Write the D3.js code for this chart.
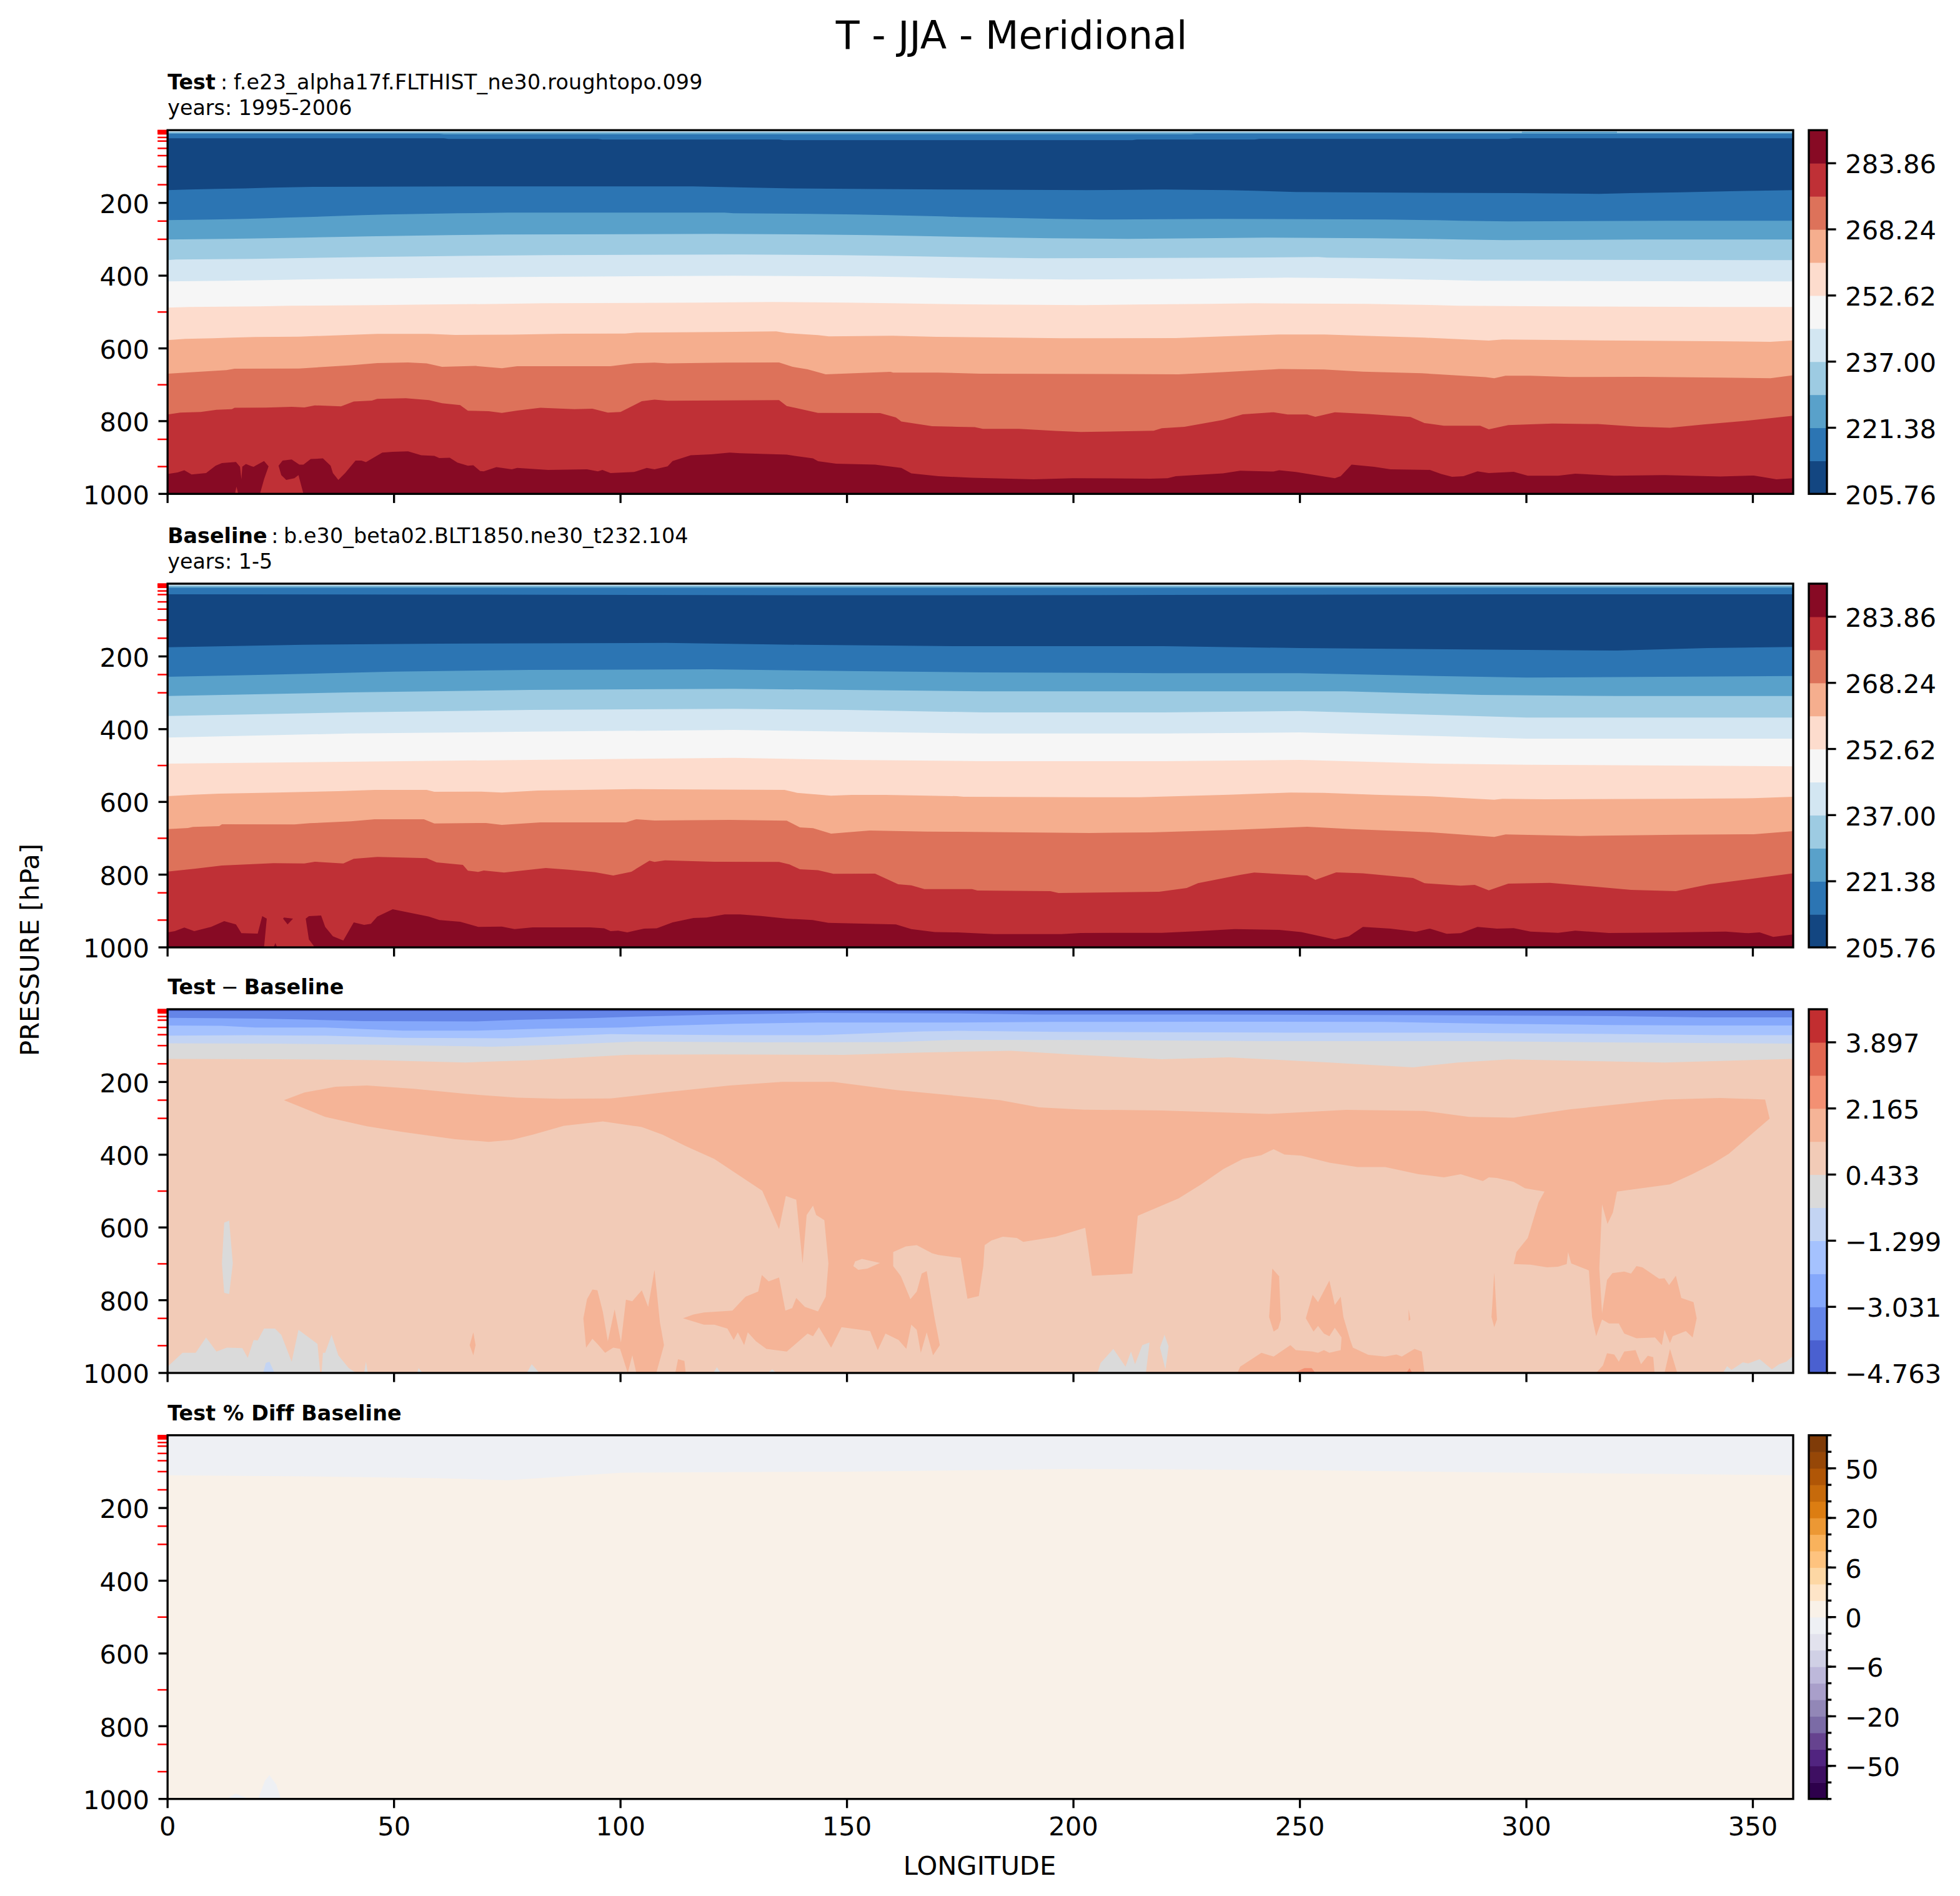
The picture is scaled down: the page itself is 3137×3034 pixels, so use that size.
<!DOCTYPE html>
<html><head><meta charset="utf-8">
<script src="https://cdn.jsdelivr.net/npm/d3@7"></script>
<style>html,body{margin:0;padding:0;background:#fff}svg{display:block}text{font-family:"DejaVu Sans";fill:#000}</style>
</head><body><svg id="fig" width="3137" height="3034"></svg>
<script>
// ---------- shared ----------
const lonTicks=[0,50,100,150,200,250,300,350];
const pressureMajor=[200,400,600,800,1000];
const pressureLevels=[1,2,3,5,7,10,20,30,50,70,100,150,250,300,500,700,850,925];
// ---------- colours and levels ----------
const rdbu=["#134681","#2c75b3","#59a1ca","#9dcbe2","#d3e6f2","#f6f6f6","#fddccd","#f5ae8e","#dd725a","#bf3036","#870a24"];
const coolwarm=["#4a60d0","#6485e8","#85a8fb","#a5c2fe","#c3d4f3","#dadada","#f2cbb7","#f5b497","#f39073","#e16751","#c22e30"];
const puor=["#2d004b","#3e0f62","#512480","#66438f","#7b6ba6","#9287b7","#a99fca","#bdb8da","#d0d0e5","#e2e2ed","#eef0f4","#f9f1e8","#fee5c8","#fdd7a4","#fec37f","#f9b25c","#ec9834","#dc7d12","#c66a0b","#b05606","#964707","#7f3b08"];
const fieldTicks=[205.76,221.38,237.00,252.62,268.24,283.86];
const fieldRange=[205.76,291.67];
const diffTicks=[-4.763,-3.031,-1.299,0.433,2.165,3.897];
const diffRange=[-4.763,4.763];
const pctLevels=[-100,-75,-50,-40,-30,-20,-15,-10,-6,-4,-2,0,2,4,6,10,15,20,30,40,50,75,100];
const pctLabels=[-50,-20,-6,0,6,20,50];
// ---------- Test: band edges as [longitude, hPa] ----------
const testE0=[[0,4.6],[359,4.6]];
const testE1=[[0,7.4],[299,7.4],[299,4.2],[320,4.2],[320,7.4],[359,7.4]];
const testE2=[[0,9.7],[60,9.7],[61,11.5],[226,11.5],[227,9.7],[359,9.7]];
const testE3=[[0,22.3],[61,22.3],[62,24],[95,24],[96,25.8],[135,25.8],[136,27.5],[213,27.5],[214,25.8],[240,25.8],[241,24],[296,24],[297,22.3],[359,22.3]];
const testE4=[[0,165],[4.7,163],[11,161.5],[17,160],[23,158],[32,156],[66,154.6],[116,154.6],[129,158],[138,160],[151,161.5],[172,163],[203,165],[220,163],[234,165],[240,166.6],[249,170],[259,171],[298,173],[316,175],[323,173],[334,171],[345,168],[351,166.6],[359,165]];
const testE5=[[0,247.4],[10,245.7],[17,244],[22,242.2],[26,240.5],[31,238.8],[35,237],[39,235.4],[43,233.7],[48,232],[56,230.2],[64,228.5],[75,226.8],[123,226.8],[125,228.5],[142,230.2],[152,232],[159,233.7],[165,235.4],[171,237],[175,238.8],[183,240.5],[189.5,242.2],[196,244],[206,245.7],[232,244],[269,245.7],[280,247.4],[285.5,249],[296,250.8],[331,249],[359,249]];
const testE6=[[0,300.7],[13,299],[22,297.2],[30,295.5],[37,293.8],[44,292],[53,290.3],[62,288.6],[74,286.9],[121,285.2],[143,286.9],[155,288.6],[163,290.3],[170,292],[177.5,293.8],[185.5,295.5],[195,297.2],[212,299],[228,297.2],[242.5,295.5],[266,297.2],[278,299],[285.5,300.7],[295,302.4],[325,300.7],[359,300.7]];
const testE7=[[0,357.4],[1.8,355.6],[18.7,354],[27,352.2],[35.5,350.5],[44.5,348.8],[56.5,347],[67.5,345.3],[84,343.6],[126,341.9],[148,343.6],[158,345.3],[166,347],[173.5,348.8],[182,350.5],[192.5,352.2],[238,350.5],[254,348.8],[256,350.5],[269,352.2],[279,354],[286,355.6],[351.5,357.4],[359,357.4]];
const testE8=[[0,415.8],[13,414],[22,412.3],[29,410.6],[38,408.9],[53,407.2],[64,405.5],[78,403.7],[99.5,402],[125,400.3],[153,402],[161,403.7],[168,405.5],[176,407.2],[185,408.9],[199,410.6],[225,408.9],[236,407.2],[247,405.5],[261,407.2],[269,408.9],[276,410.6],[283,412.3],[289,414],[346,415.8],[359,415.8]];
const testE9=[[0,488],[4.7,486.2],[20,484.5],[27,482.8],[46,481],[58,479.3],[74,477.6],[83,475.9],[117,474.2],[133.5,472.5],[149.5,474.2],[160,475.9],[168.7,477.6],[180,479.3],[202,481],[214,479.3],[230,477.6],[240,475.9],[265,477.6],[272,479.3],[280,481],[285,482.8],[306,484.5],[343,486.2],[359,486.2]];
const testE10=[[0,577.3],[3.9,573.9],[10.2,572.1],[14.2,570.4],[19.4,568.7],[29,567.6],[38.8,563.6],[46.3,560.1],[57.7,560.1],[63.5,563],[76,562.4],[87.5,559.5],[101,559],[103.5,556.7],[122.4,555],[134.4,553.2],[136.7,557.8],[143.6,563.6],[146,567],[160,565.3],[169.7,568.1],[179.4,569.3],[197.3,572.1],[222.6,571.6],[233,567],[245.4,561.8],[255.3,561.8],[263.9,565.3],[277.5,570.4],[291.7,578.4],[294.7,575.6],[316.3,577.9],[341.6,580.2],[353.9,581.9],[359,577.9]];
const testE11=[[0,669.5],[6.2,664.9],[13,659.8],[14.8,655.8],[29,655.2],[40.5,646.6],[46.3,640.3],[53.1,638.6],[57.2,641.4],[60.6,650.6],[68,648.3],[73.8,654.6],[77.2,648.9],[97.8,648.9],[103,640.9],[107.5,639.2],[110.4,641.4],[123,639.2],[135,638.6],[138,650.6],[141.3,657.5],[145.3,671.2],[159.6,664.3],[160.2,666.6],[170.2,666.6],[179.4,669.5],[223.2,671.2],[233,665.5],[245.4,656.9],[255.3,658],[263.9,663.8],[276.9,668.4],[291,679.2],[292.9,682.1],[295.4,675.2],[300.9,675.2],[309.5,678.7],[325.6,678.1],[342.8,680.4],[353.9,682.1],[359,673.5]];
const testE12=[[0,781.8],[2.8,776.6],[7.3,774.9],[10.8,768.6],[14.2,766.9],[14.8,763.4],[21.7,762.9],[27.4,760.6],[30.2,762.3],[32.5,756.6],[38.3,759.4],[41.1,746.2],[45.1,743.4],[46.3,738.8],[52.6,737.1],[57.7,742.2],[60.6,750.8],[64.6,756],[66.3,771.4],[70.9,772.6],[73.8,777.2],[77.2,770.9],[82.3,763.4],[89.8,766.9],[93.8,765.7],[97.2,776.6],[100,774.9],[104.7,745.1],[107.5,741.1],[110.4,743.9],[135,742.2],[136.7,758.3],[143.6,777.2],[157.3,777.7],[160.8,789.8],[162,801.2],[168.8,813.8],[174.3,815.5],[178.2,816.7],[180,821.3],[188,821.3],[196,827],[201.6,829.9],[217.7,826.4],[219.5,819.5],[224.5,815.5],[233,796.6],[237.4,781.2],[244.2,775.5],[247.3,781.8],[251.6,781.8],[253.4,788],[257.7,775.5],[265.1,780.6],[274.4,788.6],[277.5,805.2],[281.8,812.7],[289.8,812.7],[291.7,822.4],[296,811],[305.8,806.4],[315.7,808.1],[324.3,815],[331.7,818.4],[339.1,809.2],[349,798.4],[359,785.2]];
const testWarm=[[0,1000],[0,945.5],[2.2,941],[3.7,935.2],[5.3,946.7],[8.5,942.7],[10.6,922.6],[12,915.2],[15.1,912.3],[16,925.5],[16.3,960],[16.5,925],[17.3,918],[18.5,923.8],[19,925.5],[19.4,922.6],[21.3,909.5],[22.3,924.3],[21.3,959.8],[20.4,1000],[30,1000],[28.9,948.4],[28,957],[26.2,961.6],[25.1,948.4],[24.5,922.6],[25.4,908.3],[27.4,905.5],[29.1,919.8],[30,919.8],[31.6,904.3],[34.3,902.6],[36,922.6],[36.5,942.7],[37.7,961.6],[39.2,942.7],[41.5,908.3],[42.8,908.3],[43.8,912.9],[47.4,886.6],[49.7,884.3],[53.1,883.1],[56,894],[58.9,895.7],[60,901.4],[62.3,900.9],[64,914],[66.3,922.6],[67.5,921.5],[69,937],[69.8,938.1],[72.6,926.6],[76,932.4],[77.2,928.4],[84,934],[92.6,932.4],[95,938.1],[96,934],[97.8,942.7],[103,939.8],[105.8,928.4],[107.5,932.4],[110.4,924.3],[111.5,909.5],[115.5,894],[120,891.1],[124.1,886.6],[126.4,888.3],[136.7,892.3],[142.5,902.6],[143.6,910],[147.6,916.9],[156.2,919.8],[162,928.4],[164.2,943.8],[170.2,951.3],[177.6,955.8],[191.2,959.9],[199.8,957],[217,958.1],[220.8,957],[222.6,951.3],[233,943.8],[236.8,936.4],[244.2,938.7],[245.4,935.2],[249.1,939.8],[257.7,957],[259,951.3],[261.4,919.8],[266.4,925.5],[270,932.4],[278.7,934],[281.2,945.5],[283.6,953],[286.1,951.3],[289.2,938.1],[291.7,942.7],[297.2,939.2],[300.3,950.1],[307,950.1],[310.8,944.4],[319.4,950.1],[330.5,948.4],[342.8,952.4],[350.2,949.5],[355.2,959.9],[359,957],[359,1000],[15.6,1000],[15.2,980],[14.9,1000]];
// ---------- Baseline ----------
const baseE0=[[0,4.6],[359,4.6]];
const baseE1=[[0,7.8],[359,7.8]];
const baseE2=[[0,11.5],[359,11.5]];
const baseE3=[[0,29],[60,30],[140,32],[220,31],[300,29],[359,29]];
const baseE4=[[0,175],[30,168],[60,165],[110,163],[140,168],[175,172],[220,172],[250,177],[300,182],[320,184],[340,177],[359,174]];
const baseE5=[[0,256],[20,251],[50,242],[80,237],[120,235.5],[150,240],[180,244],[220,246],[250,246],[280,254],[300,258],[330,256],[359,254]];
const baseE6=[[0,309],[40,299],[80,292],[125,289],[150,292],[180,296],[230,296],[260,296],[290,306],[320,309],[359,309]];
const baseE7=[[0,364],[40,354],[80,347],[125,344],[150,347],[180,354],[220,354],[250,350],[280,361],[300,368],[359,368]];
const baseE8=[[0,423],[40,412],[80,407],[125,402],[150,407],[180,412],[220,412],[250,409],[280,419],[300,426],[359,426]];
const baseE9=[[0,495],[30,491],[80,484.5],[125,479],[150,484.5],[180,488],[220,488],[250,484.5],[280,495],[300,498],[359,502]];
const baseE10=[[0,584.2],[5.6,580.2],[11.4,577.3],[24,574.4],[37.7,570.4],[45.7,567],[57.2,567],[58.9,572.2],[69.2,571.6],[73.8,574.4],[81.8,568.7],[103,564.7],[114.4,565.9],[136.2,567],[139,575],[146.5,583],[151,580.7],[158.5,580.7],[174.3,584.2],[175.7,585.9],[202.9,587],[214.6,587],[223.2,584.2],[234.3,580.2],[247.9,574.4],[255.3,575],[266.4,580.2],[278.7,584.8],[292.9,593.9],[294.7,591.6],[304,592.8],[333.6,591.6],[350.2,589.9],[359,585.9]];
const baseE11=[[0,674.7],[4.5,671.8],[5.6,668.9],[11.4,666.6],[12,661.5],[28,662],[31.4,658.6],[40.5,653.5],[45.7,647.7],[56.6,647.7],[58.9,659.2],[70.3,658],[73.8,663.2],[82.3,656.3],[101.2,656.3],[103.5,647.7],[107.5,651.2],[124.1,649.5],[136.7,651.8],[139.6,670],[142.5,672.4],[146.5,687.3],[155,678.7],[167.6,681.5],[174.3,682.1],[203.5,685.5],[217,683.8],[234.3,677.5],[251.6,668.4],[261.4,674.7],[278.7,683.3],[292.9,696.4],[295.4,689.6],[312,693.6],[333.6,690.1],[350.2,689],[359,680.4]];
const baseE12=[[0,791.5],[6.2,783.5],[12,774.9],[23.4,768.6],[30.2,769.2],[32.5,764.6],[38.8,769.2],[41.1,756.6],[46.3,751.4],[57.2,754.8],[59.4,766.3],[65.2,773.2],[66.3,789.2],[68.6,792.6],[69.8,788.6],[74.3,794.4],[83.5,781.8],[88.6,786.3],[94.4,793.2],[98.4,802.4],[102.4,792],[106.4,761.7],[107.5,765.2],[109.8,760.6],[120.7,764.6],[135,765.2],[137.3,772],[139.6,785.2],[143.6,788],[147,797.8],[156.2,797.2],[161.3,826.4],[164.2,829.3],[167.1,839.6],[177.6,839.6],[178.8,843.6],[194.9,845.3],[196.7,850.5],[218.9,847],[225,836.7],[227.5,823.6],[236.8,800.7],[239.9,794.4],[251.6,802.4],[253.4,814.4],[258,793.8],[263.9,796.6],[275,809.2],[277.5,823.6],[285.5,830.4],[288.6,828.1],[291.7,843],[296,824.7],[305.2,822.4],[323.1,841.9],[333,845.3],[340.4,826.4],[359,796.2]];
const baseWarm=[[0,1000],[0,958.7],[1.6,955.3],[3.7,945.6],[5.9,955.3],[9.6,943.8],[12.5,927.8],[15.1,937],[16.3,961],[19.9,962.2],[20.9,914],[21.9,920.9],[21.3,1000],[32.5,1000],[31.2,978.2],[30.5,920.9],[31.2,914],[33.9,912.3],[34.8,943.8],[36.5,969.6],[38.8,981],[41.1,931.2],[43.4,938.1],[44.9,935.2],[46.3,915.2],[49.7,895.1],[53.1,903.7],[57.7,915.2],[60,925],[64.6,929.5],[68.6,943.8],[73.8,942.7],[76.6,949.6],[80.6,945],[93.2,945],[96.4,947.8],[97.8,955.3],[99.5,954.1],[101.5,958.7],[105.2,948.4],[108,947.8],[111.5,931.2],[116.1,919.2],[119,918.1],[123,909.5],[126.4,909.5],[131,913.5],[136.7,920.9],[142.4,925],[145.9,932.4],[160.8,937],[164.2,949.6],[169.4,958.1],[174.3,958.7],[182.5,963.3],[197.3,963.3],[201.6,960.4],[219.5,959.9],[226.9,955.9],[235.6,949.6],[245.4,951.8],[250.3,958.1],[257.7,978.2],[260.8,969.6],[263.9,943.8],[270,948.4],[275.6,957],[278.7,948.4],[282.4,962.7],[285.5,961],[289.2,943.8],[293.5,948.4],[297.2,947.3],[300.9,956.4],[307,959.9],[310.8,954.1],[318.2,960.4],[330.5,959.3],[344,956.4],[349,961],[351.5,958.7],[354.5,971.3],[359,964.4],[359,1000]];
const baseWarmIsle=[[25.7,918],[27.7,921],[26.5,937],[25.5,921]];
const baseWarmTip=[[23.4,1000],[23.8,988],[24.2,1000]];
// ---------- Test minus Baseline ----------
const diffE0=[[0,5],[359,5]];
const diffE1=[[0,23.6],[9.6,24.4],[20.5,25.8],[29.1,27.9],[43.4,32.8],[68,33.5],[77.2,29.3],[93.2,24.4],[103.5,20.1],[120.7,15.2],[143.6,10.3],[174.3,11.7],[192.4,14.5],[229.4,14.5],[284.9,16.6],[319.4,18.7],[339.1,22.2],[359,22.2]];
const diffE2=[[0,44.7],[11.9,45.4],[19.4,50.3],[34.8,50.3],[52,58.7],[68,58.7],[81.8,53.8],[100,50.3],[109.3,45.4],[125.3,39.8],[143.6,36.3],[174.3,36.3],[194.9,34.9],[229.4,34.2],[268.8,34.9],[293.5,39.8],[318,43.3],[339,44.7],[359,44.7]];
const diffE3=[[0,72.7],[17.7,71.3],[34.8,72.7],[52,78.4],[74.9,79.8],[97.8,68.5],[125.3,71.3],[143.6,71.3],[166.5,60.8],[174.3,59.4],[197.3,62.2],[246.6,64.3],[281.2,64.3],[318.2,67.9],[342.8,71.3],[359,71.3]];
const diffE4=[[0,93.8],[23.4,94.5],[46.3,97.3],[71.5,102.9],[86.4,97.3],[103.5,88.9],[132.2,91],[160.8,90.3],[174.3,84],[199.8,84.7],[244.2,87.5],[287.3,87.5],[317,91],[359,94.5]];
const diffE5=[[0,136.6],[23.4,137.3],[46.3,140],[65.7,146.4],[80.6,140],[101.2,125.3],[120.7,124],[149.3,125.3],[166.5,119],[174.3,117],[186.2,114.1],[201,125.3],[219.5,137.3],[234.3,132.4],[256.5,146.4],[275,159.7],[284.9,146.4],[296,138],[330.5,146.4],[359,136.6]];
const diffSalmon=[[25.7,250.2],[30.2,229.1],[37.1,213],[44,209.5],[54.3,218.6],[65.7,232.6],[77.2,243.2],[86.4,246],[97.8,245.3],[109.3,229.1],[124.1,209.5],[135.6,199.7],[147,199.7],[160.8,222.1],[174.3,238.2],[183.8,250.2],[192.4,269.8],[202.3,276.1],[219.5,278.2],[243,288],[260.2,276.8],[277.5,279.6],[287.3,295.8],[297.2,297.9],[309.5,275.4],[330.5,248.1],[342.8,243.9],[352.7,248.1],[353.7,300.7],[344.7,397.4],[341,425.5],[336.6,453.5],[331.7,481.6],[320,501.2],[319.1,558.7],[317.9,590.3],[316.7,536.3],[316.1,713],[316.7,835.7],[317.8,744.6],[319,725.6],[321.6,721.4],[323.1,727],[324.3,706],[325.6,709.5],[329.3,741.1],[330.5,739.7],[331.5,758.6],[333,732.7],[334.2,793.7],[336.9,805.6],[337.6,849.8],[336.7,902.4],[335.2,884.9],[332.3,898.9],[331.7,917.8],[330.5,881.3],[329.9,923.4],[328.4,902.4],[324.3,904.5],[321.6,891.9],[320.4,863.8],[318.2,863.8],[316.7,853.3],[315.4,898.9],[314.5,846.3],[313.8,718],[309.9,699],[309.2,667.4],[308.9,700.4],[307,708.1],[304.6,709.5],[300.9,702.5],[297.2,700.4],[297.8,667.4],[300.3,628.9],[302.7,530.7],[304,501.2],[299.7,492.1],[297.2,474.6],[293.5,464.1],[291.7,462],[290.4,472.5],[285.5,453.5],[281.8,462],[276.2,453.5],[268.8,433.9],[262.7,433.9],[256.5,422],[250.3,402.4],[246.6,399.6],[244.2,384.8],[241.5,401],[237.4,411.5],[233.1,439.5],[228.2,481.6],[223.2,520.2],[214.2,567.9],[213,727],[204.1,732.7],[202.6,600.8],[196.1,625.4],[188.9,639.4],[187.5,628.9],[184.4,625.4],[181.9,635.9],[180.4,648.5],[180.1,706],[179.1,788.8],[176.6,795.8],[175.1,683.6],[170.2,675.9],[168.8,671],[165.4,648.5],[163,652],[160.2,667.4],[160.2,706],[161.9,734.1],[164,797.2],[165.4,776.1],[166.5,727],[167.6,720],[169.4,853.3],[170.5,923.4],[169,951.5],[167.6,888.3],[166.3,944.4],[165.4,881.3],[164.2,867.3],[163.1,934],[161.4,909.4],[158.5,891.9],[156.8,937.4],[155.1,884.9],[148.8,874.3],[146.5,930.4],[143.8,874.3],[142.5,898.9],[141.3,891.9],[136.7,941],[132.2,934],[129.9,912.9],[128.1,888.3],[127.3,923.4],[125.9,888.3],[125,909.4],[123.6,877.8],[120.7,867.3],[118.4,867.3],[113.8,849.8],[116.1,839.3],[118.4,833.7],[124.7,828.7],[127.6,790.2],[130.4,776.1],[131.2,730.5],[132.7,748.1],[135,737.6],[136.4,828.7],[137.9,821.7],[138.8,793.7],[140.7,818.2],[143.6,830.9],[145.3,790.2],[145.9,699],[145,579.8],[143.2,565.8],[142.5,539.8],[141.1,565.8],[140.2,699],[138.8,523.7],[136.5,513.2],[135,604.3],[131.3,499.1],[120.7,411.5],[114.4,376.4],[109.3,344.8],[104.7,323.8],[96.1,308.4],[87.5,320.3],[80.6,344.8],[76,358.9],[70.9,364.5],[63.5,357.5],[52,337.8],[44,321.7],[34.8,295.8]];
const diffPeachHole=[[151.4,706],[151.8,693.4],[153.3,686.4],[157.3,697.6],[154.5,713],[152.5,716.5]];
const diffSalmonA=[[91.8,849.8],[92.6,797.2],[93.8,770.5],[94.9,772.6],[96.1,832.2],[97.2,912.9],[98.7,825.2],[100.1,916.4],[101.2,798.6],[102.6,802.8],[104.7,772.6],[106.1,818.2],[107.5,716.5],[108.7,860.3],[109.6,923.4],[107.9,1000],[103.5,1000],[102.6,951.5],[101.6,1000],[99.9,934],[98.4,930.4],[96.6,944.4],[94.9,919.9],[93.8,905.9],[92.4,930.4]];
const diffSalmonB=[[112.1,1000],[112.7,962],[114.1,967],[114.4,1000]];
const diffSalmonC=[[66.7,923.4],[67.5,888.3],[68,923.4],[67.5,951.5]];
const diffSalmonD=[[243.2,846.3],[243.9,713],[245.4,734.1],[245.8,853.3],[245.2,877.8],[244.2,886.3]];
const diffSalmonE=[[251.3,849.8],[252.8,785.3],[254,805.6],[256.5,746],[257.7,813.3],[259,790.2],[259.6,846.3],[261.1,909.4],[261.7,930.4],[265.1,950.1],[268.8,955],[271.3,949.4],[272.5,955],[275.3,934],[276.9,941],[277.5,1000],[236.2,1000],[236.8,983],[241.5,944.5],[244.2,955],[247.9,923.4],[249.1,937.4],[252.8,941],[254,944.5],[255.3,937.4],[256.5,944.5],[259,937.4],[259.2,902.4],[257.7,875.7],[256.5,898.9],[255.3,891.9],[254,870.8],[253,886.3]];
const diffSalmonF=[[274,825],[274.4,853],[274,857]];
const diffSalmonG=[[292.9,723.6],[293.5,853.3],[292.9,874.3],[292.3,846.3]];
const diffSalmonH=[[315.4,1000],[316.9,979.5],[317.8,945.8],[319.4,949.4],[320.4,969],[321.6,941],[324.1,937.4],[325.3,976],[326.8,952.9],[328,956.4],[328.3,1000]];
const diffSalmonI=[[330.5,1000],[331.7,933.9],[333.3,1000]];
const diffHotA=[[248.7,1000],[251,986.5],[252.6,986.5],[253.4,1000]];
const diffHotB=[[273.5,1000],[274.2,986.5],[274.8,1000]];
const diffGreyA=[[0,1000],[0,983],[3.3,944.5],[6.2,944.5],[8.5,902.4],[10.8,941],[13.1,930.4],[16.5,931.8],[17.7,958.5],[19,909.4],[19.9,910.8],[21.3,877.8],[23.7,877.8],[25.1,895.4],[27.4,969],[28.9,881.3],[33.1,919.9],[33.7,1000]];
const diffGreyB=[[34,1000],[34.3,944.5],[34.8,944.5],[36.2,895.4],[37.7,951.5],[40,986.5],[41.7,1000]];
const diffGreyC=[[12,699],[12.5,586.8],[13.6,581.2],[14.4,699],[13.6,783.2],[12.5,779.7]];
const diffGreyD=[[43.4,1000],[43.8,968.9],[44.2,1000]];
const diffGreyE=[[55.1,1000],[55.4,986.5],[56.3,1000]];
const diffGreyF=[[79.3,1000],[80.4,976],[82.1,1000]];
const diffGreyG=[[120.5,1000],[121.3,984],[122.1,1000]];
const diffGreyH=[[132.5,1000],[133.5,990],[134.4,1000]];
const diffGreyI=[[205.3,1000],[206,972.5],[208.8,934],[211.5,983],[212.7,941],[213.6,976],[215.2,923.4],[216.8,916.4],[216,1000]];
const diffGreyJ=[[219.1,930.4],[220.1,895.4],[221,926.9],[220.3,990]];
const diffGreyK=[[343.4,1000],[344.3,981.6],[345.3,991.4],[347.8,971],[349,973.9],[351.5,962],[354.2,990],[355.8,976],[357.4,969],[359,951.5],[359,1000]];
const diffBlue=[[21.1,1000],[21.7,972.4],[22.5,968.9],[23.6,1000]];
// ---------- Percent difference ----------
const pctE0=[[0,110],[30,113],[60,118],[75,124],[100,103],[150,100],[200,93],[250,96],[300,103],[330,106],[359,110]];
const pctCoolA=[[13,1000],[15,985],[18,1000]];
const pctCoolB=[[20,1000],[21.5,950],[22.5,935],[24,960],[25,1000]];

// ---------- layout ----------
const svg=d3.select("#fig");
const fs=41.67,tickLen=14.6,spine=3.33;
const x0=268.2,x1=2870,plotH=582;
const barX0=2895,barX1=2924;
const tops=[208.3,934,1615,2296.7];
const x=d3.scaleLinear().domain([0,358.9]).range([x0,x1]);

function addPlot(top,draw,clipId,showLon){
  const y=d3.scaleLinear().domain([0,1000]).range([top,top+plotH]);
  svg.append("clipPath").attr("id",clipId).append("rect").attr("x",x0).attr("y",top).attr("width",x1-x0).attr("height",plotH);
  const g=svg.append("g").attr("clip-path",`url(#${clipId})`);
  const edge=d3.area().x(d=>x(d[0])).y1(d=>y(d[1])).y0(y(1000));
  const poly=d3.line().x(d=>x(d[0])).y(d=>y(d[1])).curve(d3.curveLinearClosed);
  draw(g,edge,poly);
  // minor (red) then major pressure ticks
  const minor=svg.append("g").attr("transform",`translate(${x0},0)`)
    .call(d3.axisLeft(y).tickValues(pressureLevels).tickSize(16).tickFormat("").offset(0));
  minor.select(".domain").remove();
  minor.selectAll("line").attr("stroke","#ff0000").attr("stroke-width",2.5);
  const major=svg.append("g").attr("transform",`translate(${x0},0)`)
    .call(d3.axisLeft(y).tickValues(pressureMajor).tickSize(tickLen).tickPadding(14.6).offset(0).tickFormat(d3.format("d")));
  major.select(".domain").remove();
  major.selectAll("line").attr("stroke","#000").attr("stroke-width",spine);
  major.selectAll("text").attr("font-size",fs).attr("font-family","DejaVu Sans").attr("dy","0.39em");
  const bottom=svg.append("g").attr("transform",`translate(0,${top+plotH})`)
    .call(d3.axisBottom(x).tickValues(lonTicks).tickSize(tickLen).tickPadding(14.6).offset(0)
      .tickFormat(showLon?d3.format("d"):""));
  bottom.select(".domain").remove();
  bottom.selectAll("line").attr("stroke","#000").attr("stroke-width",spine);
  bottom.selectAll("text").attr("font-size",fs).attr("font-family","DejaVu Sans");
  svg.append("rect").attr("x",x0).attr("y",top).attr("width",x1-x0).attr("height",plotH)
    .attr("fill","none").attr("stroke","#000").attr("stroke-width",spine);
}
function addBar(top,colors,axisFn){
  const n=colors.length,h=plotH/n;
  const gb=svg.append("g");
  gb.selectAll("rect").data(colors).join("rect")
    .attr("x",barX0).attr("width",barX1-barX0)
    .attr("y",(d,i)=>top+plotH-(i+1)*h).attr("height",h+0.6).attr("fill",d=>d);
  axisFn(svg.append("g").attr("transform",`translate(${barX1},0)`));
  svg.append("rect").attr("x",barX0).attr("y",top).attr("width",barX1-barX0).attr("height",plotH)
    .attr("fill","none").attr("stroke","#000").attr("stroke-width",spine);
}
function styleBarAxis(a){
  a.select(".domain").remove();
  a.selectAll("line").attr("stroke","#000").attr("stroke-width",spine);
  a.selectAll("text").attr("font-size",fs).attr("font-family","DejaVu Sans").attr("dy","0.39em");
}
const minusFmt=f=>v=>f(v).replace("-","\u2212");
function valueBar(top,colors,range,ticks,fmt){
  addBar(top,colors,g=>{
    const s=d3.scaleLinear().domain(range).range([top+plotH,top]);
    g.call(d3.axisRight(s).tickValues(ticks).tickSize(tickLen).tickPadding(14.6).offset(0).tickFormat(minusFmt(d3.format(fmt))));
    styleBarAxis(g);
  });
}
function fieldPlot(top,id,edges,warm,extras){
  addPlot(top,(g,edge,poly)=>{
    g.append("rect").attr("x",x0).attr("y",top).attr("width",x1-x0).attr("height",plotH).attr("fill",rdbu[4]);
    const order=[3,2,1,0,1,2,3,4,5,6,7,8,9];
    edges.forEach((e,i)=>g.append("path").attr("d",edge(e)).attr("fill",rdbu[order[i]]));
    g.append("path").attr("d",poly(warm)).attr("fill",rdbu[10]);
    (extras||[]).forEach(e=>g.append("path").attr("d",poly(e)).attr("fill",rdbu[10]));
  },id,false);
  valueBar(top,rdbu,fieldRange,fieldTicks,".2f");
}
fieldPlot(tops[0],"c0",[testE0,testE1,testE2,testE3,testE4,testE5,testE6,testE7,testE8,testE9,testE10,testE11,testE12],testWarm);
fieldPlot(tops[1],"c1",[baseE0,baseE1,baseE2,baseE3,baseE4,baseE5,baseE6,baseE7,baseE8,baseE9,baseE10,baseE11,baseE12],baseWarm,[baseWarmIsle,baseWarmTip]);

addPlot(tops[2],(g,edge,poly)=>{
  g.append("rect").attr("x",x0).attr("y",tops[2]).attr("width",x1-x0).attr("height",plotH).attr("fill",coolwarm[0]);
  [diffE0,diffE1,diffE2,diffE3,diffE4,diffE5].forEach((e,i)=>g.append("path").attr("d",edge(e)).attr("fill",coolwarm[i+1]));
  const poly2=(arr,c)=>arr.forEach(p=>g.append("path").attr("d",poly(p)).attr("fill",c));
  poly2([diffSalmon,diffSalmonA,diffSalmonB,diffSalmonC,diffSalmonD,diffSalmonE,diffSalmonF,diffSalmonG,diffSalmonH,diffSalmonI],coolwarm[7]);
  poly2([diffPeachHole],coolwarm[6]);
  poly2([diffHotA,diffHotB],coolwarm[8]);
  poly2([diffGreyA,diffGreyB,diffGreyC,diffGreyD,diffGreyE,diffGreyF,diffGreyG,diffGreyH,diffGreyI,diffGreyJ,diffGreyK],coolwarm[5]);
  poly2([diffBlue],coolwarm[4]);
},"c2",false);
valueBar(tops[2],coolwarm,diffRange,diffTicks,".3f");

addPlot(tops[3],(g,edge,poly)=>{
  g.append("rect").attr("x",x0).attr("y",tops[3]).attr("width",x1-x0).attr("height",plotH).attr("fill",puor[10]);
  g.append("path").attr("d",edge(pctE0)).attr("fill",puor[11]);
  [pctCoolA,pctCoolB].forEach(p=>g.append("path").attr("d",poly(p)).attr("fill",puor[10]));
},"c3",true);
addBar(tops[3],puor,g=>{
  const s=d3.scalePoint().domain(pctLevels).range([tops[3]+plotH,tops[3]]);
  const m=g.append("g").call(d3.axisRight(s).tickValues(pctLevels).tickSize(7.3).tickFormat("").offset(0));
  styleBarAxis(m);
  const j=g.append("g").call(d3.axisRight(s).tickValues(pctLabels).tickSize(tickLen).tickPadding(14.6).offset(0).tickFormat(minusFmt(d3.format("d"))));
  styleBarAxis(j);
});

// ---------- text ----------
const small=33.33;
function head(top,bold,rest,years,spacing,gap){
  const t=svg.append("text").attr("x",x0).attr("y",top-65).attr("font-size",small);
  t.append("tspan").attr("font-weight","bold").text(bold);
  t.append("tspan").attr("dx",gap).text(":");
  t.append("tspan").attr("dx",gap+2).attr("letter-spacing",spacing).text(rest);
  svg.append("text").attr("x",x0).attr("y",top-24.5).attr("font-size",small).text(years);
}
head(tops[0],"Test","f.e23_alpha17f.FLTHIST_ne30.roughtopo.099","years: 1995-2006",0.24,8);
head(tops[1],"Baseline","b.e30_beta02.BLT1850.ne30_t232.104","years: 1-5",0.12,6.5);
const t3=svg.append("text").attr("x",x0).attr("y",tops[2]-24).attr("font-size",small).attr("font-weight","bold");
t3.append("tspan").text("Test");
t3.append("tspan").attr("dx",9).attr("font-weight","normal").text("\u2212");
t3.append("tspan").attr("dx",9).text("Baseline");
svg.append("text").attr("x",x0).attr("y",tops[3]-24).attr("font-size",small).attr("font-weight","bold").attr("letter-spacing",0.1).text("Test % Diff Baseline");
svg.append("text").attr("x",1619).attr("y",78).attr("font-size",62).attr("text-anchor","middle").text("T - JJA - Meridional");
svg.append("text").attr("x",1568).attr("y",3000).attr("font-size",fs).attr("text-anchor","middle").text("LONGITUDE");
svg.append("text").attr("transform","translate(62,1520) rotate(-90)").attr("font-size",fs).attr("text-anchor","middle").text("PRESSURE [hPa]");
</script></body></html>
